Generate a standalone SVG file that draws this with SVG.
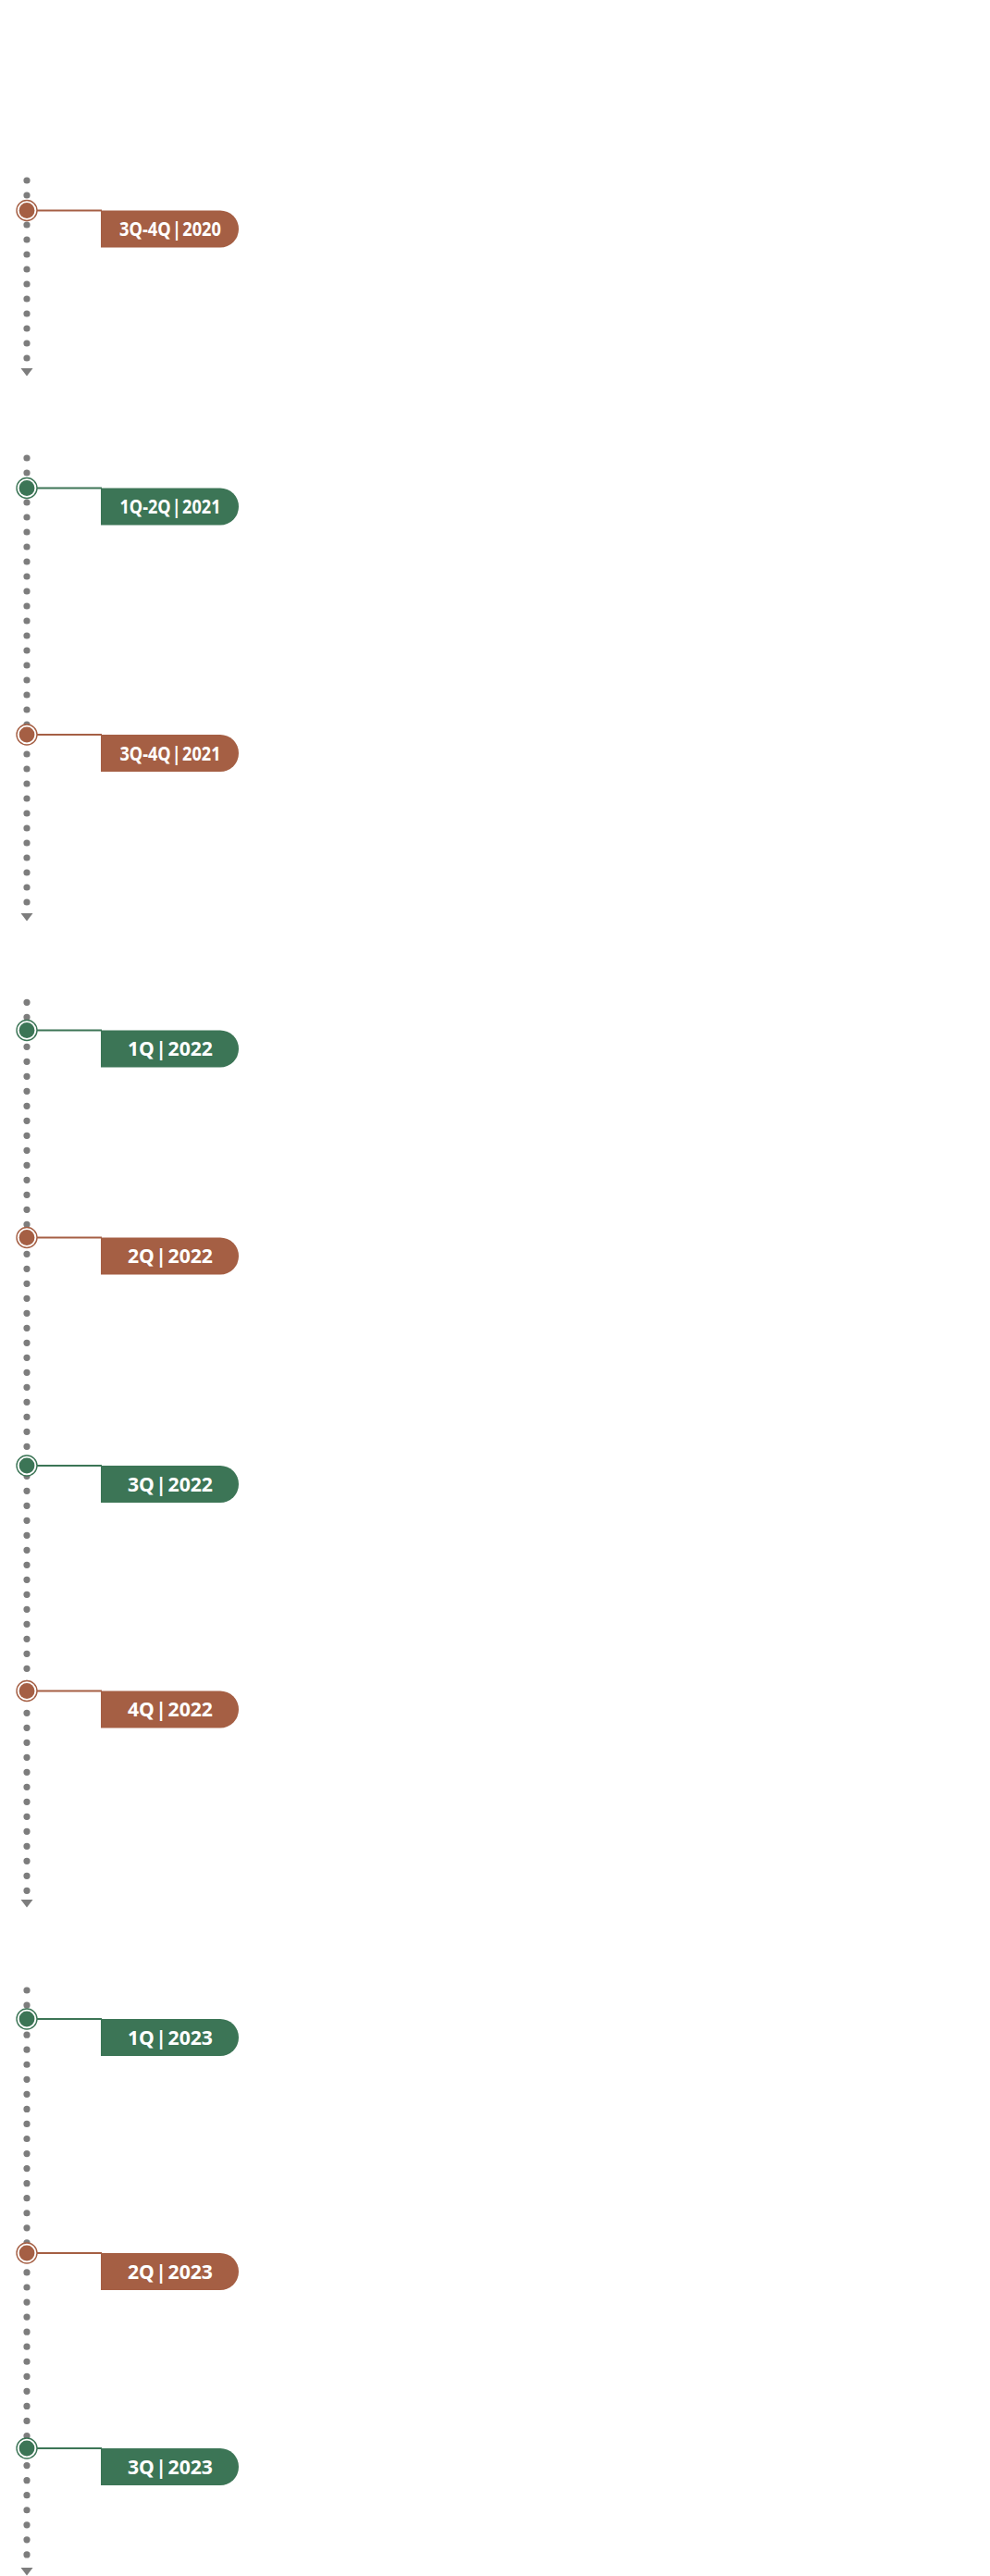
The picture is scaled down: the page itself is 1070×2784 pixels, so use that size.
<svg xmlns="http://www.w3.org/2000/svg" width="1070" height="2784" viewBox="0 0 1070 2784">
  <style>
    .rail { stroke: #7d7d7d; stroke-width: 7.2; stroke-linecap: round; stroke-dasharray: 0 16; fill: none; }
    .tip { fill: #7d7d7d; }
    .link { stroke-width: 1.8; fill: none; }
    .brown .link { stroke: #a55f44; }
    .green .link { stroke: #3c7556; }
    .ring { fill: #ffffff; stroke-width: 1.4; }
    .brown .ring { stroke: #a55f44; }
    .green .ring { stroke: #3c7556; }
    .brown .dot, .brown .tag { fill: #a55f44; }
    .green .dot, .green .tag { fill: #3c7556; }
    .label { fill: #ffffff; font-family: "Noto Sans", "Open Sans", sans-serif; font-weight: 700; font-size: 21px; word-spacing: -4px; text-anchor: middle; }
  </style>
  <defs>
    <!-- pill-shaped period tag, square on the left, round on the right -->
    <path id="tag" d="M109,0 H238 A20,20 0 0 1 258,20 A20,20 0 0 1 238,40 H109 Z"/>
    <polygon id="tip" points="22.5,0 35.5,0 29,8.5"/>
  </defs>
  <rect x="0" y="0" width="1070" height="2784" fill="#ffffff"/>

  <!-- dotted rails with arrow tips -->
  <g id="rails">
    <line class="rail" x1="29" y1="195" x2="29" y2="388"/>
    <use href="#tip" class="tip" y="398"/>
    <line class="rail" x1="29" y1="495" x2="29" y2="976"/>
    <use href="#tip" class="tip" y="987"/>
    <line class="rail" x1="29" y1="1083.3" x2="29" y2="2044"/>
    <use href="#tip" class="tip" y="2053"/>
    <line class="rail" x1="29" y1="2151" x2="29" y2="2762" style="stroke-dasharray:0 16.05"/>
    <use href="#tip" class="tip" y="2775"/>
  </g>

  <!-- connectors from markers to tags -->
  <g id="connectors">
    <g class="brown"><line class="link" x1="40" y1="227.5" x2="110" y2="227.5"/></g>
    <g class="green"><line class="link" x1="40" y1="527.5" x2="110" y2="527.5"/></g>
    <g class="brown"><line class="link" x1="40" y1="794" x2="110" y2="794"/></g>
    <g class="green"><line class="link" x1="40" y1="1113.5" x2="110" y2="1113.5"/></g>
    <g class="brown"><line class="link" x1="40" y1="1337.5" x2="110" y2="1337.5"/></g>
    <g class="green"><line class="link" x1="40" y1="1584" x2="110" y2="1584"/></g>
    <g class="brown"><line class="link" x1="40" y1="1827.5" x2="110" y2="1827.5"/></g>
    <g class="green"><line class="link" x1="40" y1="2182" x2="110" y2="2182"/></g>
    <g class="brown"><line class="link" x1="40" y1="2435" x2="110" y2="2435"/></g>
    <g class="green"><line class="link" x1="40" y1="2646" x2="110" y2="2646"/></g>
  </g>

  <!-- period nodes -->
  <g id="p2020-3q4q" class="brown" transform="translate(0,227.5)">
    <circle class="ring" cx="29" cy="0" r="11"/><circle class="dot" cx="29" cy="0" r="8.4"/>
    <use href="#tag" class="tag"/>
    <text class="label" x="184" y="27.5" textLength="110" lengthAdjust="spacingAndGlyphs">3Q-4Q | 2020</text>
  </g>
  <g id="p2021-1q2q" class="green" transform="translate(0,527.5)">
    <circle class="ring" cx="29" cy="0" r="11"/><circle class="dot" cx="29" cy="0" r="8.4"/>
    <use href="#tag" class="tag"/>
    <text class="label" x="184" y="27.5" textLength="109" lengthAdjust="spacingAndGlyphs">1Q-2Q | 2021</text>
  </g>
  <g id="p2021-3q4q" class="brown" transform="translate(0,794)">
    <circle class="ring" cx="29" cy="0" r="11"/><circle class="dot" cx="29" cy="0" r="8.4"/>
    <use href="#tag" class="tag"/>
    <text class="label" x="184" y="27.5" textLength="109" lengthAdjust="spacingAndGlyphs">3Q-4Q | 2021</text>
  </g>
  <g id="p2022-1q" class="green" transform="translate(0,1113.5)">
    <circle class="ring" cx="29" cy="0" r="11"/><circle class="dot" cx="29" cy="0" r="8.4"/>
    <use href="#tag" class="tag"/>
    <text class="label" x="184" y="27.5" textLength="92" lengthAdjust="spacingAndGlyphs">1Q | 2022</text>
  </g>
  <g id="p2022-2q" class="brown" transform="translate(0,1337.5)">
    <circle class="ring" cx="29" cy="0" r="11"/><circle class="dot" cx="29" cy="0" r="8.4"/>
    <use href="#tag" class="tag"/>
    <text class="label" x="184" y="27.5" textLength="92" lengthAdjust="spacingAndGlyphs">2Q | 2022</text>
  </g>
  <g id="p2022-3q" class="green" transform="translate(0,1584)">
    <circle class="ring" cx="29" cy="0" r="11"/><circle class="dot" cx="29" cy="0" r="8.4"/>
    <use href="#tag" class="tag"/>
    <text class="label" x="184" y="27.5" textLength="92" lengthAdjust="spacingAndGlyphs">3Q | 2022</text>
  </g>
  <g id="p2022-4q" class="brown" transform="translate(0,1827.5)">
    <circle class="ring" cx="29" cy="0" r="11"/><circle class="dot" cx="29" cy="0" r="8.4"/>
    <use href="#tag" class="tag"/>
    <text class="label" x="184" y="27.5" textLength="92" lengthAdjust="spacingAndGlyphs">4Q | 2022</text>
  </g>
  <g id="p2023-1q" class="green" transform="translate(0,2182)">
    <circle class="ring" cx="29" cy="0" r="11"/><circle class="dot" cx="29" cy="0" r="8.4"/>
    <use href="#tag" class="tag"/>
    <text class="label" x="184" y="27.5" textLength="92" lengthAdjust="spacingAndGlyphs">1Q | 2023</text>
  </g>
  <g id="p2023-2q" class="brown" transform="translate(0,2435)">
    <circle class="ring" cx="29" cy="0" r="11"/><circle class="dot" cx="29" cy="0" r="8.4"/>
    <use href="#tag" class="tag"/>
    <text class="label" x="184" y="27.5" textLength="92" lengthAdjust="spacingAndGlyphs">2Q | 2023</text>
  </g>
  <g id="p2023-3q" class="green" transform="translate(0,2646)">
    <circle class="ring" cx="29" cy="0" r="11"/><circle class="dot" cx="29" cy="0" r="8.4"/>
    <use href="#tag" class="tag"/>
    <text class="label" x="184" y="27.5" textLength="92" lengthAdjust="spacingAndGlyphs">3Q | 2023</text>
  </g>
</svg>
